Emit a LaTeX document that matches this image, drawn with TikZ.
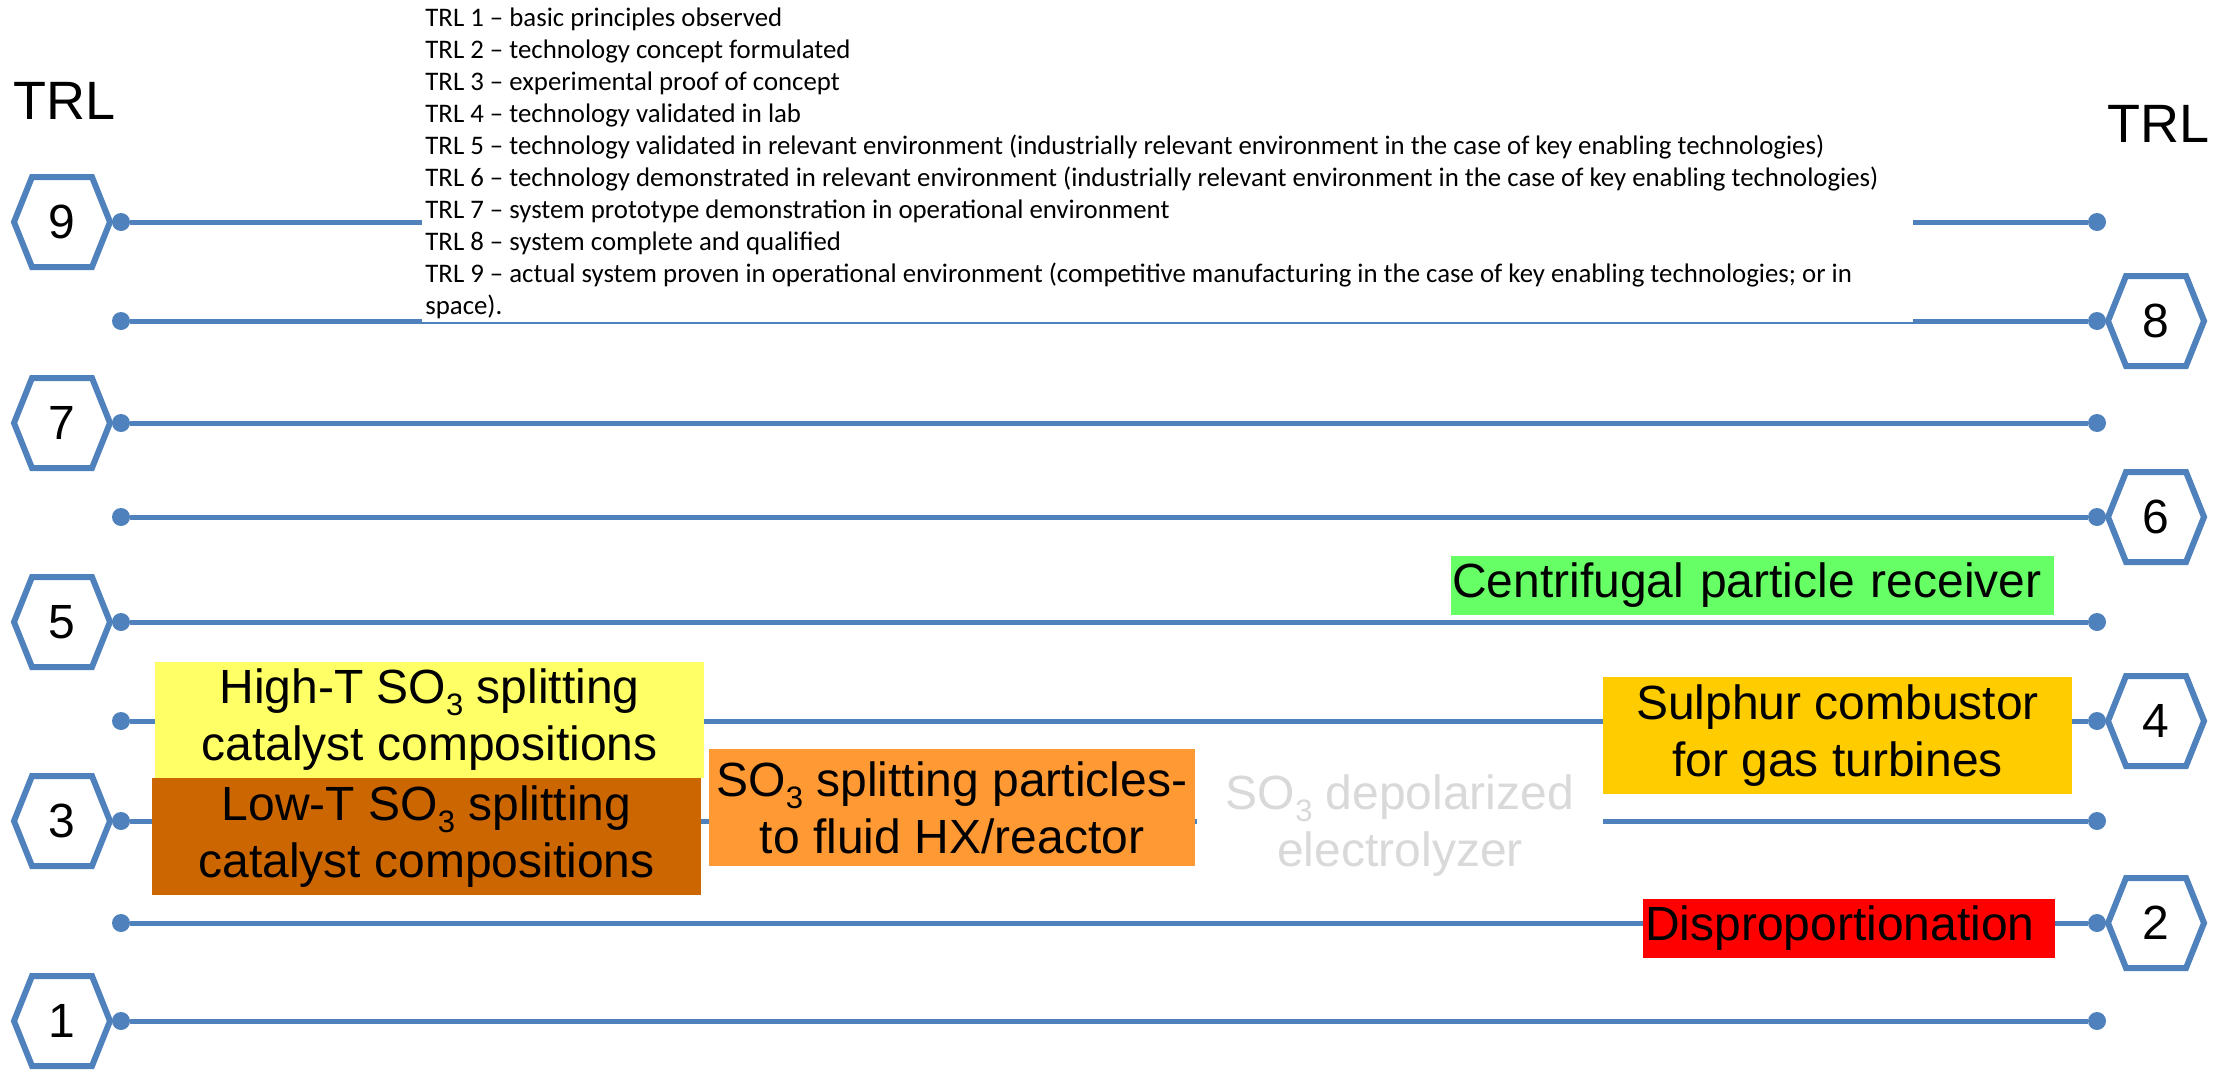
\documentclass[tikz,border=0pt]{standalone}
\usepackage{fontspec}
\setmainfont{Liberation Sans}
\newfontfamily\calibri{Carlito}
\definecolor{trlblue}{HTML}{4F81BD}
\definecolor{hiTcol}{HTML}{FFFF66}
\definecolor{loTcol}{HTML}{CC6600}
\definecolor{orngcol}{HTML}{FF9933}
\definecolor{goldcol}{HTML}{FFCC00}
\definecolor{grncol}{HTML}{66FF66}
\definecolor{redcol}{HTML}{FF0000}
\definecolor{grycol}{HTML}{D9D9D9}
\newcommand\subthree{\raisebox{-6pt}{\fontsize{15.5pt}{15.5pt}\selectfont 3}}
\newcommand\trlhex[4]{%
  \begin{scope}[shift={(#2,#3)}]
    \draw[hexline] (-48,0) -- (-30,-45) -- (30,-45) -- (48,0) -- (30,45) -- (-30,45) -- cycle;
  \end{scope}
  \node[hexnum] (#1) at (#2,#3) {#4};}
\begin{document}
\begin{tikzpicture}[x=0.5pt,y=-0.5pt,
  trlline/.style={draw=trlblue,line width=2.5pt},
  enddot/.style={circle,fill=trlblue,inner sep=0pt,minimum size=9pt},
  hexline/.style={draw=trlblue,fill=white,line width=3pt,line join=miter},
  hexnum/.style={inner sep=0pt,font=\fontsize{24pt}{28pt}\selectfont},
  trllabel/.style={inner sep=0pt,anchor=base west,font=\fontsize{27pt}{32pt}\selectfont},
  techbox/.style={inner sep=0pt,align=center,font=\fontsize{24pt}{28.5pt}\selectfont},
]
\useasboundingbox[fill=white] (0,0) rectangle (2222,1071);

% TRL headings
\node[trllabel] (trlL) at (13,119) {TRL};
\node[trllabel] (trlR) at (2107,142) {TRL};

% hexagons
\trlhex{h9}{62}{222}{9}
\trlhex{h7}{62}{423}{7}
\trlhex{h5}{62}{622}{5}
\trlhex{h3}{62}{821}{3}
\trlhex{h1}{62}{1021}{1}
\trlhex{h8}{2156}{321}{8}
\trlhex{h6}{2156}{517}{6}
\trlhex{h4}{2156}{721}{4}
\trlhex{h2}{2156}{923}{2}

% level lines
\foreach \n/\yy in {9/222,8/321,7/423,6/517,5/622,4/721,3/821,2/923,1/1021} {
  \node[enddot] (a\n) at (121,\yy) {};
  \node[enddot] (b\n) at (2097,\yy) {};
  \draw[trlline] (a\n) -- (b\n);
}

% definitions text box
\fill[white] (422,0) rectangle (1913,322);
\node[anchor=north west,inner sep=0pt,align=left,
      font=\calibri\fontsize{13.4pt}{16pt}\selectfont] (defs) at (425,7)
{TRL 1 – basic principles observed\\
TRL 2 – technology concept formulated\\
TRL 3 – experimental proof of concept\\
TRL 4 – technology validated in lab\\
TRL 5 – technology validated in relevant environment (industrially relevant environment in the case of key enabling technologies)\\
TRL 6 – technology demonstrated in relevant environment (industrially relevant environment in the case of key enabling technologies)\\
TRL 7 – system prototype demonstration in operational environment\\
TRL 8 – system complete and qualified\\
TRL 9 – actual system proven in operational environment (competitive manufacturing in the case of key enabling technologies; or in\\
space).};

% technology boxes
\node[techbox,fill=white,text=grycol,minimum width=203pt,minimum height=70pt] (elec) at (1400,826)
  {SO\subthree\ depolarized\\electrolyzer};
\node[techbox,fill=hiTcol,minimum width=274.5pt,minimum height=58pt] (hiT) at (429.5,720)
  {High-T SO\subthree\ splitting\\catalyst compositions};
\node[techbox,fill=loTcol,minimum width=274.5pt,minimum height=58.5pt] (loT) at (426.5,836.5)
  {Low-T SO\subthree\ splitting\\catalyst compositions};
\node[techbox,fill=orngcol,minimum width=243pt,minimum height=58.5pt] (part) at (952,807.5)
  {SO\subthree\ splitting particles-\\to fluid HX/reactor};
\node[techbox,fill=goldcol,minimum width=234.5pt,minimum height=58.5pt] (comb) at (1837.5,735.5)
  {Sulphur combustor\\for gas turbines};
\node[techbox,fill=redcol,align=left,text width=204pt,inner xsep=1pt,minimum height=29.5pt] (disp) at (1849,928.5)
  {Disproportionation};
\node[techbox,fill=grncol,align=left,text width=300.5pt,inner xsep=0.5pt,minimum height=29.5pt] (cent) at (1752.5,585.5)
  {Centrifugal particle receiver};
\end{tikzpicture}
\end{document}
